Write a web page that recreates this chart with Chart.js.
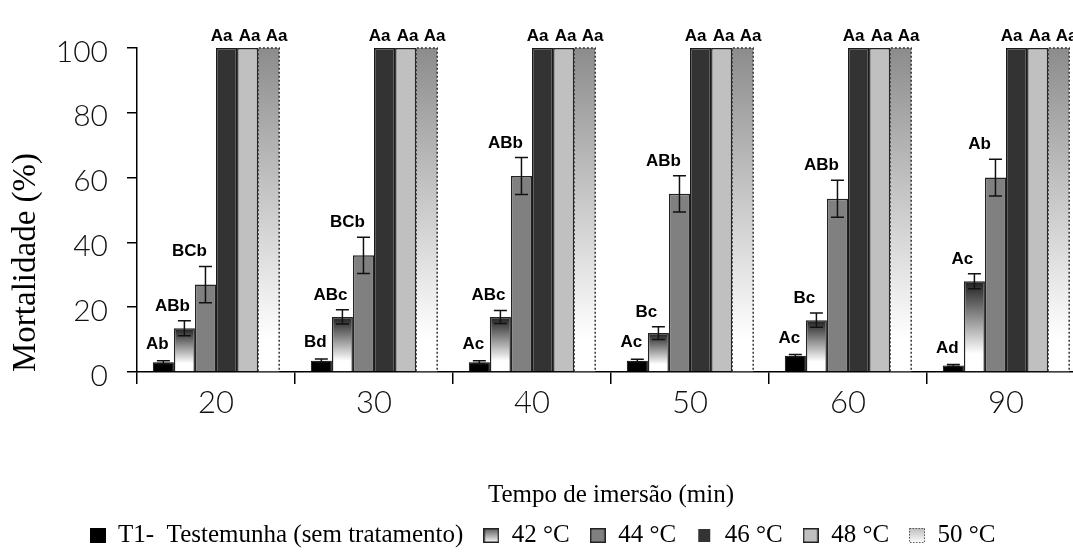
<!DOCTYPE html>
<html lang="pt-BR">
<head>
<meta charset="utf-8">
<title>Mortalidade por tempo de imersão</title>
<script src="https://cdn.jsdelivr.net/npm/chart.js@4.4.1/dist/chart.umd.min.js"></script>
<style>
  html, body { margin: 0; padding: 0; background: #fff; overflow: hidden; }
  #wrap { position: relative; width: 1090px; height: 557px; }
</style>
</head>
<body>
<div id="wrap"><canvas id="grafico"></canvas></div>
<script>
// tempos de imersão (min)
const tempos = ['20', '30', '40', '50', '60', '90'];

// mortalidade média (%) por tratamento
const testemunha = [3, 3.5, 3, 3.5, 5, 2];
const temp42 = [13.5, 17, 17, 12, 16, 28];
const temp44 = [27, 36, 60.5, 55, 53.5, 60];
const temp46 = [100, 100, 100, 100, 100, 100];
const temp48 = [100, 100, 100, 100, 100, 100];
const temp50 = [100, 100, 100, 100, 100, 100];

// desvio (barras de erro)
const erroTestemunha = [0.5, 0.5, 0.5, 0.4, 0.4, 0.3];
const erro42 = [2.3, 2.2, 2, 2, 2.2, 2.3];
const erro44 = [5.6, 5.6, 5.7, 5.6, 5.7, 5.7];

// letras do teste de médias
const letrasTestemunha = ['Ab', 'Bd', 'Ac', 'Ac', 'Ac', 'Ad'];
const letras42 = ['ABb', 'ABc', 'ABc', 'Bc', 'Bc', 'Ac'];
const letras44 = ['BCb', 'BCb', 'ABb', 'ABb', 'ABb', 'Ab'];
const letras46 = ['Aa', 'Aa', 'Aa', 'Aa', 'Aa', 'Aa'];
const letras48 = ['Aa', 'Aa', 'Aa', 'Aa', 'Aa', 'Aa'];
const letras50 = ['Aa', 'Aa', 'Aa', 'Aa', 'Aa', 'Aa'];

const yTicks = [0, 20, 40, 60, 80, 100];

// gradiente vertical do topo da barra até o zero
function degrade(stops) {
    return function(context) {
        const chart = context.chart;
        if (!chart.chartArea || context.type !== 'data') return stops[0][1];
        const y = chart.scales.y;
        const g = chart.ctx.createLinearGradient(0, y.getPixelForValue(context.raw), 0, y.getPixelForValue(0));
        stops.forEach(s => g.addColorStop(s[0], s[1]));
        return g;
    };
}

const stops42 = [[0, '#1e1e1e'], [0.8, '#ffffff'], [1, '#ffffff']];
const stops50 = [[0, '#8c8c8c'], [0.9, '#ffffff'], [1, '#ffffff']];

function icone(w, h, pintar) {
    const c = document.createElement('canvas');
    c.width = w;
    c.height = h;
    pintar(c.getContext('2d'), w, h);
    return c;
}

function caixa(fundo, borda) {
    return icone(16, 15, (ctx, w, h) => {
        ctx.fillStyle = fundo;
        ctx.fillRect(0, 0, w, h);
        if (borda) {
            ctx.strokeStyle = borda;
            ctx.lineWidth = 1.5;
            ctx.strokeRect(0.75, 0.75, w - 1.5, h - 1.5);
        }
    });
}

const icone42 = icone(16, 15, (ctx, w, h) => {
    const g = ctx.createLinearGradient(0, 0, 0, h);
    g.addColorStop(0, '#555');
    g.addColorStop(1, '#fff');
    ctx.fillStyle = g;
    ctx.fillRect(0, 0, w, h);
    ctx.strokeStyle = '#222';
    ctx.lineWidth = 1.5;
    ctx.strokeRect(0.75, 0.75, w - 1.5, h - 1.5);
});

const icone46 = icone(16, 15, (ctx) => {
    ctx.fillStyle = '#333';
    ctx.fillRect(2, 1, 12, 13);
});

const icone50 = icone(16, 15, (ctx, w, h) => {
    const g = ctx.createLinearGradient(0, 0, 0, h);
    g.addColorStop(0, '#bbb');
    g.addColorStop(1, '#fff');
    ctx.fillStyle = g;
    ctx.fillRect(0, 0, w, h);
    ctx.strokeStyle = '#555';
    ctx.lineWidth = 1;
    ctx.setLineDash([1.5, 1.5]);
    ctx.strokeRect(0.5, 0.5, w - 1, h - 1);
});

// borda pontilhada das barras de 50 °C
const bordaPontilhada = {
    id: 'bordaPontilhada',
    afterDatasetsDraw(chart) {
        const ctx = chart.ctx;
        ctx.save();
        ctx.strokeStyle = '#333';
        ctx.lineWidth = 1.5;
        ctx.setLineDash([2, 2]);
        chart.data.datasets.forEach((ds, i) => {
            if (!ds.pontilhado) return;
            chart.getDatasetMeta(i).data.forEach(bar => {
                const l = bar.x - bar.width / 2, r = bar.x + bar.width / 2;
                ctx.beginPath();
                ctx.moveTo(l, bar.base);
                ctx.lineTo(l, bar.y);
                ctx.lineTo(r, bar.y);
                ctx.lineTo(r, bar.base);
                ctx.stroke();
            });
        });
        ctx.restore();
    }
};

const barrasDeErro = {
    id: 'barrasDeErro',
    afterDatasetsDraw(chart) {
        const ctx = chart.ctx;
        const y = chart.scales.y;
        ctx.save();
        ctx.strokeStyle = '#111';
        ctx.lineWidth = 1.5;
        chart.data.datasets.forEach((ds, i) => {
            if (!ds.erros) return;
            chart.getDatasetMeta(i).data.forEach((bar, j) => {
                const v = ds.data[j], e = ds.erros[j];
                const yt = y.getPixelForValue(v + e);
                const yb = y.getPixelForValue(v - e);
                const cap = 6.5;
                ctx.beginPath();
                ctx.moveTo(bar.x, yt);
                ctx.lineTo(bar.x, yb);
                ctx.moveTo(bar.x - cap, yt);
                ctx.lineTo(bar.x + cap, yt);
                ctx.moveTo(bar.x - cap, yb);
                ctx.lineTo(bar.x + cap, yb);
                ctx.stroke();
            });
        });
        ctx.restore();
    }
};

const letrasNasBarras = {
    id: 'letrasNasBarras',
    afterDatasetsDraw(chart) {
        const ctx = chart.ctx;
        const y = chart.scales.y;
        ctx.save();
        ctx.font = 'bold 17px "Liberation Sans", Arial, sans-serif';
        ctx.fillStyle = '#000';
        ctx.textAlign = 'center';
        ctx.textBaseline = 'alphabetic';
        chart.data.datasets.forEach((ds, i) => {
            chart.getDatasetMeta(i).data.forEach((bar, j) => {
                const topo = ds.data[j] + (ds.erros ? ds.erros[j] : 0);
                ctx.fillText(ds.letras[j], bar.x + ds.deslocLetra, y.getPixelForValue(topo) - ds.folgaLetra);
            });
        });
        ctx.restore();
    }
};

const serif = 'Liberation Serif, Times New Roman, serif';

new Chart(document.getElementById('grafico'), {
    type: 'bar',
    data: {
        labels: tempos,
        datasets: [
            { label: 'T1-  Testemunha (sem tratamento)', data: testemunha, erros: erroTestemunha, letras: letrasTestemunha,
              backgroundColor: '#000', borderColor: '#000', borderWidth: 1, legendIcon: caixa('#000'),
              deslocLetra: -6, folgaLetra: 12 },
            { label: '42 °C', data: temp42, erros: erro42, letras: letras42,
              backgroundColor: degrade(stops42), borderColor: '#222', borderWidth: 1.5, legendIcon: icone42,
              deslocLetra: -12, folgaLetra: 10 },
            { label: '44 °C', data: temp44, erros: erro44, letras: letras44,
              backgroundColor: '#808080', borderColor: '#222', borderWidth: 1.5, legendIcon: caixa('#808080', '#222'),
              deslocLetra: -16, folgaLetra: 10 },
            { label: '46 °C', data: temp46, letras: letras46,
              backgroundColor: '#333333', borderColor: '#1a1a1a', borderWidth: 1.5, legendIcon: icone46,
              deslocLetra: -5, folgaLetra: 7 },
            { label: '48 °C', data: temp48, letras: letras48,
              backgroundColor: '#c0c0c0', borderColor: '#222', borderWidth: 1.5, legendIcon: caixa('#c0c0c0', '#222'),
              deslocLetra: 2, folgaLetra: 7 },
            { label: '50 °C', data: temp50, letras: letras50, pontilhado: true,
              backgroundColor: degrade(stops50), borderWidth: 0, legendIcon: icone50,
              deslocLetra: 8, folgaLetra: 7 }
        ]
    },
    options: {
        responsive: true,
        maintainAspectRatio: false,
        animation: false,
        layout: { padding: { top: 48, right: 5, bottom: 0, left: 0 } },
        datasets: { bar: { categoryPercentage: 0.8, barPercentage: 1 } },
        plugins: {
            tooltip: { enabled: false },
            legend: {
                position: 'bottom',
                maxHeight: 54,
                labels: {
                    usePointStyle: true,
                    boxWidth: 16,
                    boxHeight: 15,
                    padding: 20,
                    color: '#000',
                    font: { family: serif, size: 25 },
                    generateLabels: chart => chart.data.datasets.map((ds, i) => ({
                        text: ds.label,
                        pointStyle: ds.legendIcon,
                        datasetIndex: i,
                        hidden: false,
                        fontColor: '#000',
                        lineWidth: 0
                    }))
                }
            }
        },
        scales: {
            x: {
                grid: { offset: true, drawOnChartArea: false, tickLength: 12, color: '#000', lineWidth: 1.5 },
                border: { color: '#000', width: 1.5 },
                ticks: { color: '#111', padding: 0, font: { family: 'Lato', weight: 300, size: 31 } },
                title: {
                    display: true,
                    text: 'Tempo de imersão (min)',
                    color: '#000',
                    font: { family: serif, size: 25 },
                    padding: { top: 0, bottom: -7 }
                },
                afterFit: scale => { scale.height = 131; }
            },
            y: {
                min: 0,
                max: 100,
                afterBuildTicks: scale => { scale.ticks = yTicks.map(v => ({ value: v })); },
                grid: { drawOnChartArea: false, tickLength: 10, color: '#000', lineWidth: 1.5 },
                border: { color: '#000', width: 1.5 },
                ticks: { color: '#111', padding: 19, labelOffset: 4, font: { family: 'Lato', weight: 300, size: 30 } },
                title: {
                    display: true,
                    text: 'Mortalidade (%)',
                    align: 'start',
                    color: '#000',
                    font: { family: serif, size: 33 },
                    padding: { top: 7, bottom: 0 }
                },
                afterFit: scale => { scale.width = 137; }
            }
        }
    },
    plugins: [bordaPontilhada, barrasDeErro, letrasNasBarras]
});
</script>
</body>
</html>
